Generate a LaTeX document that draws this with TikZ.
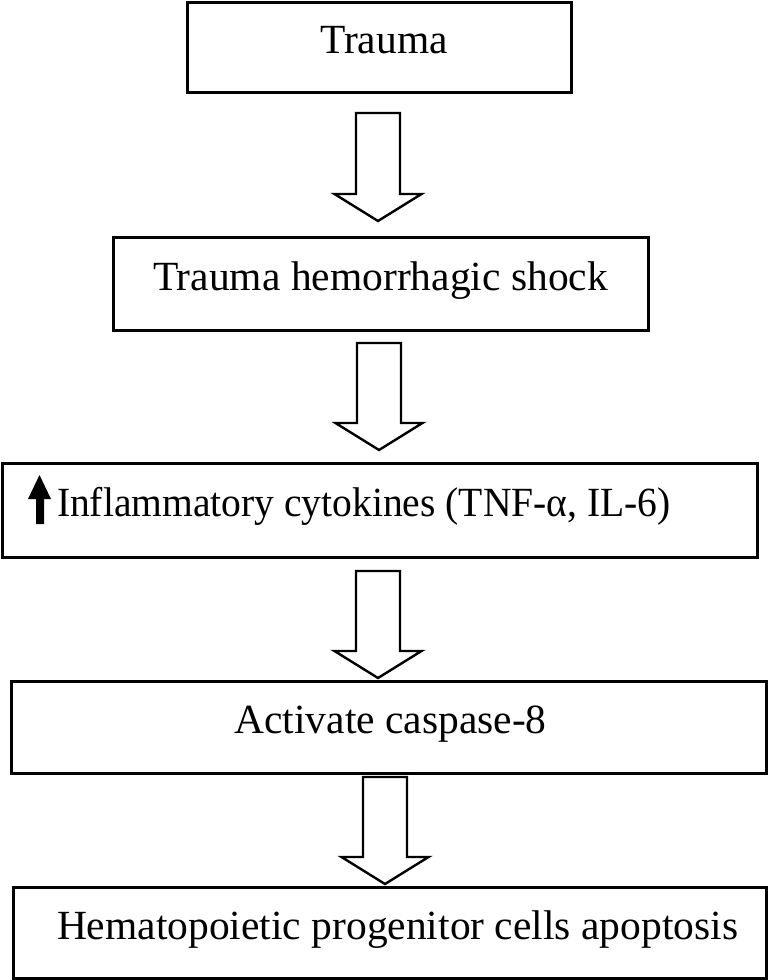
\documentclass[tikz,border=0pt]{standalone}
\usepackage{graphicx}
\usepackage{fontspec}
\setmainfont{Liberation Serif}
\usetikzlibrary{calc}
\newcommand\bigfont{\fontsize{41.5}{48}\selectfont}
\tikzset{
  box/.style={draw, line width=3pt, inner sep=0pt, outer sep=0pt, fill=white,
    text height=28pt, text depth=15pt, font=\bigfont},
  barrow/.style={draw, line width=2.4pt, fill=white, line join=miter}
}
% #1 from node, #2 to node, #3 arrow x (pt), #4 top gap, #5 bottom gap
\newcommand\barr[5]{%
  \draw[barrow] let \p1=(#1.south), \p2=(#2.north) in
   ({#3pt-22pt},{\y1-#4pt}) -- ({#3pt+22pt},{\y1-#4pt})
   -- ({#3pt+22pt},{\y2+#5pt+27pt}) -- ({#3pt+43.5pt},{\y2+#5pt+27pt})
   -- (#3pt,{\y2+#5pt}) -- ({#3pt-43.5pt},{\y2+#5pt+27pt})
   -- ({#3pt-22pt},{\y2+#5pt+27pt}) -- cycle;}
\begin{document}
\begin{tikzpicture}[x=1pt,y=-1pt]
\useasboundingbox[fill=white] (0,0) rectangle (770,980);
\node[box, minimum width=384pt, minimum height=90pt] (b1) at (379,47) {\hspace{10pt}Trauma};
\node[box, minimum width=535pt, minimum height=93pt] (b2) at (380.5,283.5) {Trauma hemorrhagic shock};
\node[box, minimum width=755pt, minimum height=94pt] (b3) at (379.5,510)
  {\makebox[755pt][l]{\hspace*{55pt}\scalebox{0.953}[1]{Inflammatory cytokines (TNF-α, IL-6)}}};
\node[box, minimum width=755pt, minimum height=92pt] (b4) at (388.5,727) {\hspace{4pt}Activate caspase-8};
\node[box, minimum width=753pt, minimum height=91pt] (b5) at (389.5,932.5)
  {\makebox[753pt][l]{\hspace*{44pt}Hematopoietic progenitor cells apoptosis}};
% up arrow inside box 3
\fill (36,524) -- (44,524) -- (44,499) -- (51,499) -- (39.5,475) -- (28,499) -- (36,499) -- cycle;
% block arrows
\barr{b1}{b2}{378}{21}{16}
\barr{b2}{b3}{379}{13}{13}
\barr{b3}{b4}{378}{14}{3}
\barr{b4}{b5}{385}{4}{3}
\end{tikzpicture}
\end{document}
